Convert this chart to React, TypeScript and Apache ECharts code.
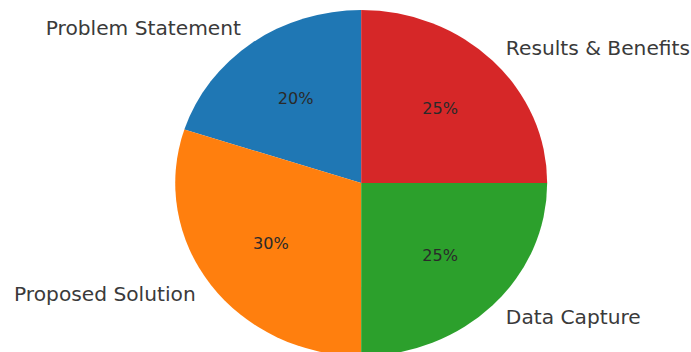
import React, { useEffect, useRef } from "react";
import * as echarts from "echarts";

const categories = ["Problem Statement", "Proposed Solution", "Data Capture", "Results & Benefits"];
const values = [20, 30, 25, 25];
const colors = ["#1f77b4", "#ff7f0e", "#2ca02c", "#d62728"];

const SCALE_X = 1.075;
const W = 643;
const H = 352;
const R = 173;
const CX = 336;
const CY = 183;

export default function App() {
  const ref = useRef<HTMLDivElement>(null);
  useEffect(() => {
    if (!ref.current) return;
    const chart = echarts.init(ref.current, null, { renderer: "svg" });
    const data = categories.map((name, i) => ({
      name,
      value: values[i],
      itemStyle: { color: colors[i] },
    }));
    chart.setOption({
      animation: false,
      backgroundColor: "#ffffff",
      series: [
        {
          type: "pie",
          center: [CX, CY],
          radius: [0, R],
          startAngle: 90,
          clockwise: false,
          avoidLabelOverlap: false,
          silent: true,
          itemStyle: { borderWidth: 0 },
          label: {
            show: true,
            position: "outside",
            formatter: "{b}",
            fontFamily: "DejaVu Sans",
            fontSize: 18.8,
            color: "#3a3a3a",
            distanceToLabelLine: 0,
          },
          labelLine: { show: false, length: R * 0.1, length2: 0 },
          emphasis: { disabled: true },
          data,
        },
        {
          type: "pie",
          center: [CX, CY],
          radius: [R * 0.2 - 6, R],
          startAngle: 90,
          clockwise: false,
          avoidLabelOverlap: false,
          silent: true,
          itemStyle: { color: "rgba(0,0,0,0)", borderWidth: 0 },
          label: {
            show: true,
            position: "inside",
            formatter: (p: any) => `${Math.round(p.percent)}%`,
            fontFamily: "DejaVu Sans",
            fontSize: 15,
            color: "#2a2a2a",
          },
          labelLine: { show: false },
          emphasis: { disabled: true },
          data: categories.map((name, i) => ({ name, value: values[i] })),
        },
      ],
    });
    return () => chart.dispose();
  }, []);
  return (
    <div style={{ position: "fixed", left: 0, top: 0, width: 691, height: H, overflow: "hidden", background: "#ffffff" }}>
      <div
        ref={ref}
        style={{ width: W, height: H, transform: `scaleX(${SCALE_X})`, transformOrigin: "0 0" }}
      />
    </div>
  );
}
